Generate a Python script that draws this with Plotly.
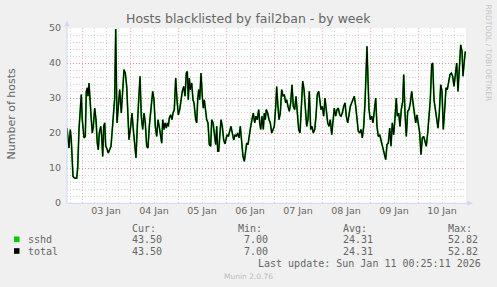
import pandas as pd
import plotly.graph_objects as go

# ---- data ----
start_time = "2026-01-03 00:00"
hours = [
    -7.5, -6.85, -6.5, -5.85, -5.35, -4.5, -3.65, -2.65, -2.15, -1.5, -0.65, -0.35,
    0.15, 1, 1.65, 2.15, 2.65, 3, 3.5, 4, 4.65, 5.15, 5.65, 6.35, 7, 7.65, 8.15, 8.65,
    9.35, 9.85, 10.35, 10.85, 11.35, 11.85, 12.35, 13.15, 13.85, 14.5, 15.15, 15.65,
    16.35, 16.85, 17.5, 18.85, 19.65, 21, 21.65, 22.35, 22.85, 23.5,
    24.35, 25, 25.65, 26.35, 27, 27.65, 28.35, 29, 29.65, 30.35, 31, 31.65, 32.35, 33,
    33.65, 34.35, 35.35, 36, 36.65, 37.35, 38, 38.85, 39.85, 40.35, 41, 41.5, 42.15,
    42.65, 43.15, 43.65, 44.35, 45, 45.5, 46.15, 46.85, 47.5,
    48.15, 48.85, 49.5, 50.15, 50.85, 51.5, 52.15, 52.65, 53.15, 53.65, 54.15, 54.85,
    55.5, 56, 56.85, 57.35, 57.85, 58.35, 58.85, 59.5, 60.15, 60.65, 61.15, 61.65,
    62.35, 63, 63.65, 64.35, 64.85, 65.5, 66.15, 66.85, 67.35, 67.85, 68.35, 68.85,
    69.5, 70.15, 70.85, 71.5,
    72.5, 73.15, 73.85, 74.5, 75.15, 75.85, 76.5, 77.15, 77.85, 78.5, 79.15, 79.85,
    80.5, 81.15, 81.85, 82.35, 83, 83.65, 84.35, 85, 85.65, 86.35, 87, 87.65, 88.35,
    88.85, 89.35, 90, 90.65, 91.15, 91.65, 92.15, 92.85, 93.5, 94.15, 94.85, 95.5,
    96.15, 96.85, 97.35, 97.85, 98.5, 99.15, 99.85, 100.5, 101.15, 101.85, 102.35,
    103, 103.65, 104.35, 105, 105.65, 106.35, 107, 107.65, 108.35, 109, 109.65, 110.35,
    111, 111.65, 112.35, 113, 113.65, 114.35, 115, 115.65, 116.35, 117, 117.65, 118.35,
    118.85, 119.5,
    120.15, 120.85, 121.5, 122.15, 122.85, 123.5, 124.15, 124.85, 125.5, 126.15,
    126.85, 127.5, 128.15, 128.85, 129.5, 130.15, 130.85, 131.5, 132.15, 132.85,
    133.5, 134.15, 134.85, 135.5, 136.15, 136.85, 137.5, 138.15, 138.85, 139.5,
    140.15, 140.85, 141.5, 142, 142.5, 143, 143.5,
    144.15, 144.85, 145.5, 146.15, 146.85, 147.5, 148.15, 148.85, 149.5, 150.15,
    150.85, 151.85, 152.5, 153.15, 153.85, 154.5, 155.15, 155.85, 156.5, 157.15,
    157.65, 158.35, 159, 159.65, 160.35, 160.85, 161.5, 162.15, 162.85, 163.5, 164.15,
    164.85, 165.5, 166.15, 166.85, 167.5,
    168.15, 168.85, 169.5, 170.15, 170.85, 171.5, 172.15, 172.85, 173.5, 174.15,
    174.85, 175.35, 176, 176.65, 177.35, 178, 178.65, 179.35, 180, 180.65, 181.35,
    182, 182.65, 183.35, 184, 184.65, 185.35, 186, 186.65, 187.35, 188, 188.65,
    189.35, 190, 190.5, 191.15, 191.65,
]
sshd = [
    21.4, 18, 15.7, 21, 18, 7.6, 7.1, 7.1, 10, 21, 29.5, 31,
    23.8, 18.6, 19, 31.9, 32.9, 30.5, 34.3, 28, 23.8, 20, 21.9, 27.1, 23.8, 17.1, 15.2, 20,
    21.9, 19, 13.3, 21.9, 22.9, 16.2, 15.7, 14.3, 15.2, 16.2, 21, 25,
    30, 49.7, 22.9, 32.4, 25.7, 38.1, 37.1, 33.3, 25.7, 18.1,
    21.9, 25.7, 21, 15.2, 12.9, 21.9, 30.5, 36.2, 24.8, 21, 25.7, 22.9, 16.2, 15.7,
    21.9, 26.7, 31.9, 29.5, 21.9, 19, 23.8, 21, 17.1, 23.8, 21, 22.9, 21.4,
    22.9, 21.9, 24.3, 25.2, 23.8, 25.7, 26.7, 35.7, 29.5,
    25.2, 26.7, 29.5, 31.9, 33.3, 30.5, 37.1, 37.6, 29.5, 35.7, 32.4, 34.3,
    29.5, 28.6, 23.8, 22.9, 29.5, 32.4, 29.5, 37.1, 30.5, 27.1, 29.5, 26.7,
    23.8, 22.9, 16.7, 16.2, 23.8, 22.9, 19, 16.7, 21.9, 14.8, 14.8, 20,
    23.8, 21.9, 18, 16.9,
    19.5, 19, 21, 21.9, 20, 18, 19.5, 19, 20, 18.6, 21.9, 17.1,
    13.3, 11.9, 16.2, 17.1, 16.7, 20, 21.9, 23.8, 25.7, 22.9, 24.8, 23.8, 26.7,
    22.9, 21, 24.8, 21, 25.7, 23.8, 26.7, 25.7, 23.8, 22.9, 20, 21,
    21.9, 27.6, 33.3, 28.6, 23.8, 25.7, 32.4, 30.5, 31, 28.6, 29.5,
    27.6, 26.2, 28.6, 33.8, 27.6, 26.7, 30.5, 24.8, 21, 20, 29.5, 34.8,
    32.5, 26.5, 21.9, 23.8, 31.9, 21, 21.9, 20, 21, 24.8, 31, 31.9,
    28.6, 26.7,
    27.6, 24.8, 30, 26.7, 22.9, 21.9, 23.8, 19.5, 22.9, 27.1,
    24.8, 26.7, 27.1, 25.2, 24.8, 25.7, 27.6, 28.6, 24.8, 22.9,
    25.2, 27.6, 28.6, 29.5, 30.5, 27.6, 24.3, 20.5, 20, 21,
    18.6, 21.9, 28.6, 39, 44.8, 35.2, 26.7,
    23.8, 24.8, 22.9, 25.7, 30, 21.9, 19, 19.5, 18, 16.7,
    15.5, 12.4, 16.7, 17.1, 21.4, 16.2, 22.9, 19.5, 24.3, 30,
    24.8, 25.7, 21.9, 26.7, 29, 36.7, 25.7, 19, 26.2, 26.7, 28.6,
    31.9, 28.6, 24.8, 22.9, 25.2,
    22.4, 20, 13.8, 18.6, 19, 17.1, 16.2, 20, 23.8, 29.5,
    39.5, 40, 29.5, 26.7, 22.9, 21.4, 25.7, 33.8, 31.9, 21, 26.7,
    32.9, 32.4, 34.8, 36.7, 37.1, 36.2, 33.3, 36.7, 40, 31.9, 39,
    45.2, 43.3, 36.2, 40.5, 43.3,
]
total = list(sshd)

series_names = ["sshd", "total"]
series_colors = ["#00CC00", "#000000"]
stat_headers = ["Cur:", "Min:", "Avg:", "Max:"]
stat_values = {
    "sshd": ["43.50", " 7.00", "24.31", "52.82"],
    "total": ["43.50", " 7.00", "24.31", "52.82"],
}
y_ticks = [0, 10, 20, 30, 40, 50]
title_text = "Hosts blacklisted by fail2ban - by week"
y_title = "Number of hosts"
last_update = "Last update: Sun Jan 11 00:25:11 2026"
version_text = "Munin 2.0.76"
watermark = "RRDTOOL / TOBI OETIKER"
x_start = "2026-01-02 16:30"
x_end = "2026-01-11 00:00"

# ---- layout geometry (pixels) ----
W, H = 497, 287
L, R, T, B = 67, 31, 28, 84
PW, PH = W - L - R, H - T - B


def px(x):
    return (x - L) / PW


def py(y):
    return (H - B - y) / PH


times = pd.Timestamp(start_time) + pd.to_timedelta(hours, unit="h")

TEXT = "#666666"
SANS = "DejaVu Sans"
MONO = "DejaVu Sans Mono"

fig = go.Figure()
fig.add_trace(go.Scatter(x=times, y=sshd, mode="lines", name="sshd",
                         line=dict(color=series_colors[0], width=1.8)))
fig.add_trace(go.Scatter(x=times, y=total, mode="lines", name="total",
                         line=dict(color=series_colors[1], width=1.2)))

grid_dash = "1px,2px"
MAJ = "rgba(255,0,0,0.32)"
MIN = "rgba(150,150,150,0.38)"
fig.update_layout(
    width=W, height=H,
    margin=dict(l=L, r=R, t=T, b=B, pad=0),
    paper_bgcolor="#F0F0F0",
    plot_bgcolor="#FFFFFF",
    showlegend=False,
    font=dict(family=SANS, color=TEXT, size=10),
    xaxis=dict(
        type="date",
        range=[x_start, x_end],
        tick0="2026-01-01", dtick=86400000,
        ticklabelmode="period",
        tickformat="%d %b",
        showgrid=True, gridcolor=MAJ, griddash=grid_dash, gridwidth=1,
        ticks="", showline=False, zeroline=False,
        tickfont=dict(family=SANS, size=9.5, color=TEXT),
        minor=dict(dtick=21600000, tick0="2026-01-01", showgrid=True,
                   gridcolor=MIN, griddash=grid_dash, gridwidth=1),
    ),
    yaxis=dict(
        range=[0, 50],
        tickvals=y_ticks,
        showgrid=True, gridcolor=MAJ, griddash=grid_dash, gridwidth=1,
        ticks="", showline=False, zeroline=False,
        ticklabelstandoff=5,
        tickfont=dict(family=SANS, size=9.5, color=TEXT),
        minor=dict(dtick=2, showgrid=True,
                   gridcolor=MIN, griddash=grid_dash, gridwidth=1),
    ),
)

AX = "#CFD6F8"
shapes = [
    dict(type="line", xref="paper", yref="paper", x0=px(67), x1=px(67), y0=py(203.3), y1=py(25),
         line=dict(color=AX, width=1)),
    dict(type="path", xref="paper", yref="paper",
         path=f"M {px(64.5)} {py(26)} L {px(69.5)} {py(26)} L {px(67)} {py(20.5)} Z",
         fillcolor=AX, line=dict(color=AX, width=0)),
    dict(type="line", xref="paper", yref="paper", x0=px(67), x1=px(468), y0=py(203.3), y1=py(203.3),
         line=dict(color=AX, width=1)),
    dict(type="path", xref="paper", yref="paper",
         path=f"M {px(467.5)} {py(200.8)} L {px(467.5)} {py(205.8)} L {px(473)} {py(203.3)} Z",
         fillcolor=AX, line=dict(color=AX, width=0)),
]
# legend colour squares
for i, name in enumerate(series_names):
    yc = [239.3, 251][i]
    shapes.append(dict(type="rect", xref="paper", yref="paper",
                       x0=px(14), x1=px(19.5), y0=py(yc + 2.8), y1=py(yc - 2.8),
                       fillcolor=series_colors[i], line=dict(width=0)))
fig.update_layout(shapes=shapes)

ann = []
ann.append(dict(text=title_text, x=px(248.7), y=py(18.5), xref="paper", yref="paper",
                showarrow=False, xanchor="center", yanchor="middle",
                font=dict(family=SANS, size=12.5, color=TEXT)))
ann.append(dict(text=y_title, x=px(10.5), y=py(114), xref="paper", yref="paper",
                showarrow=False, xanchor="center", yanchor="middle", textangle=-90,
                font=dict(family=SANS, size=11, color=TEXT)))
ann.append(dict(text=watermark, x=px(488.5), y=py(53), xref="paper", yref="paper",
                showarrow=False, xanchor="center", yanchor="middle", textangle=90,
                font=dict(family=SANS, size=7.5, color="#C4C4C4")))
col_x = [131, 236.7, 342.3, 446.7]
for j, h in enumerate(stat_headers):
    ann.append(dict(text=h, x=px(col_x[j] - 1), y=py(228.3), xref="paper", yref="paper",
                    showarrow=False, xanchor="left", yanchor="middle",
                    font=dict(family=MONO, size=10, color=TEXT)))
for i, name in enumerate(series_names):
    yc = [239.3, 251][i]
    ann.append(dict(text=name, x=px(25.7), y=py(yc), xref="paper", yref="paper",
                    showarrow=False, xanchor="left", yanchor="middle",
                    font=dict(family=MONO, size=10, color=TEXT)))
    for j, v in enumerate(stat_values[name]):
        ann.append(dict(text=v.replace(" ", "&nbsp;"), x=px(col_x[j] - 1), y=py(yc),
                        xref="paper", yref="paper",
                        showarrow=False, xanchor="left", yanchor="middle",
                        font=dict(family=MONO, size=10, color=TEXT)))
ann.append(dict(text=last_update, x=px(483.3), y=py(263.7), xref="paper", yref="paper",
                showarrow=False, xanchor="right", yanchor="middle",
                font=dict(family=MONO, size=10, color=TEXT)))
ann.append(dict(text=version_text, x=px(248), y=py(276.3), xref="paper", yref="paper",
                showarrow=False, xanchor="center", yanchor="middle",
                font=dict(family=SANS, size=7.5, color="#BBBBBB")))
fig.update_layout(annotations=ann)

fig.write_html("out.html")
